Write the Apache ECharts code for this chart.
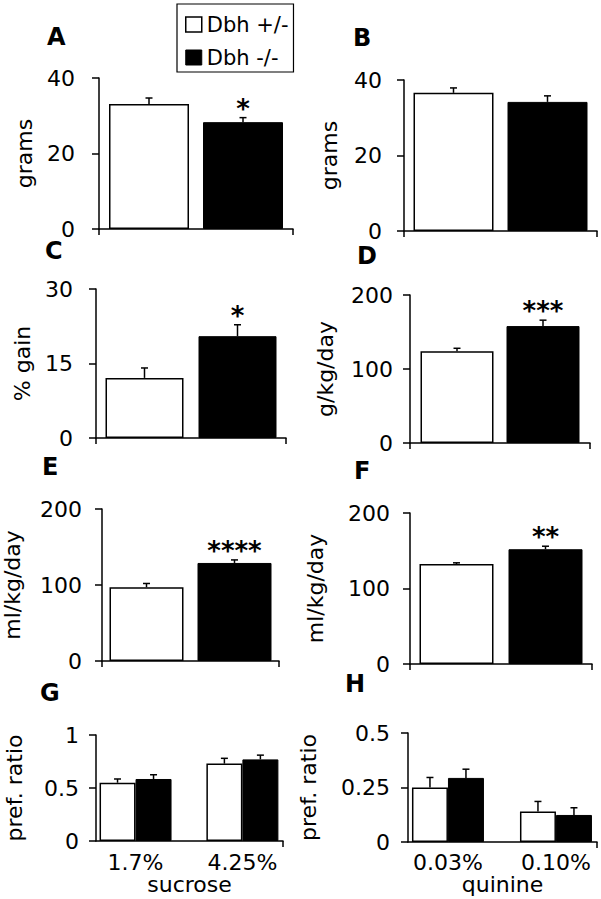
<!DOCTYPE html>
<html><head><meta charset="utf-8">
<script src="https://cdn.jsdelivr.net/npm/echarts@6/dist/echarts.min.js"></script>
<style>html,body{margin:0;padding:0;background:#fff}#c{width:601px;height:899px}</style>
</head><body><div id="c"></div>
<script>
// ---- data ----
const groups = ['Dbh +/-', 'Dbh -/-'];
const panelLetters = ['A', 'B', 'C', 'D', 'E', 'F', 'G', 'H'];
const yNames = ['grams', 'grams', '% gain', 'g/kg/day', 'ml/kg/day', 'ml/kg/day', 'pref. ratio', 'pref. ratio'];
const yMax = [40, 40, 30, 200, 200, 200, 1, 0.5];
const yInterval = [20, 20, 15, 100, 100, 100, 0.5, 0.25];
// panels A-F (single comparison)
const hetMean = [33.1, 36.6, 12.1, 124, 97, 132.5];
const hetErr = [1.6, 1.3, 2.0, 4, 5, 1.5];
const koMean = [28.3, 34.2, 20.5, 158, 129, 152];
const koErr = [1.2, 1.6, 2.3, 8, 4, 4];
const sig = ['*', '', '*', '***', '****', '**'];
// panel G
const sucroseCats = ['1.7%', '4.25%'];
const sucroseHet = [0.55, 0.73];
const sucroseHetErr = [0.035, 0.05];
const sucroseKo = [0.585, 0.77];
const sucroseKoErr = [0.04, 0.04];
// panel H
const quinineCats = ['0.03%', '0.10%'];
const quinineHet = [0.25, 0.14];
const quinineHetErr = [0.046, 0.046];
const quinineKo = [0.294, 0.124];
const quinineKoErr = [0.04, 0.033];
const xNames = ['sucrose', 'quinine'];

// ---- layout (styles / positions) ----
const FONT = 'DejaVu Sans';
// [left, top, width, height, barWidth, barGapPx, nameGap, labelMargin]
const boxes = [
  [99, 78, 194, 151, 80, 14, 64, 24],
  [404, 80, 193, 151, 80, 14, 64, 22],
  [96, 289, 190, 149, 78, 15, 63, 23],
  [410, 295, 180, 148, 73, 13, 74, 17],
  [99, 509, 180, 152, 74, 14, 79, 20],
  [410, 513, 182, 151, 74, 15, 84, 20],
  [96, 735, 187, 106, 36, 0, 71, 17],
  [408, 733, 189, 109, 36, 0, 89, 18]
];
const letterPos = [[47, 37], [353, 38], [45, 251], [357, 256], [42, 467], [354, 471], [40, 693], [345, 684]];
const XMIN = -0.37, XMAX = 1.38;

const lineStyle = { color: '#000', width: 1.5 };
const grids = [], xAxes = [], yAxes = [], series = [];

function errRender(offsetPx, starText) {
  return function (params, api) {
    const x = api.value(0), m = api.value(1), e = api.value(2), side = api.value(3);
    const base = api.coord([x, m]);
    const top = api.coord([x, m + e]);
    const cx = base[0] + side * offsetPx;
    const st = { stroke: '#000', lineWidth: 1.5 };
    const children = [
      { type: 'line', shape: { x1: cx, y1: base[1], x2: cx, y2: top[1] }, style: st },
      { type: 'line', shape: { x1: cx - 3.5, y1: top[1], x2: cx + 3.5, y2: top[1] }, style: st }
    ];
    if (starText && side > 0) {
      children.push({ type: 'text', style: { text: starText, x: cx, y: top[1] - 9, align: 'center', verticalAlign: 'middle', font: 'bold 26px "' + FONT + '"', fill: '#000' } });
    }
    return { type: 'group', children: children };
  };
}

for (let i = 0; i < 8; i++) {
  const b = boxes[i];
  grids.push({ left: b[0], top: b[1], width: b[2], height: b[3], containLabel: false });
  yAxes.push({
    type: 'value', gridIndex: i, min: 0, max: yMax[i], interval: yInterval[i],
    name: yNames[i], nameLocation: 'middle', nameRotate: 90, nameGap: b[6],
    nameTextStyle: { fontFamily: FONT, fontSize: 22, color: '#000' },
    axisLine: { show: true, onZero: false, lineStyle: lineStyle },
    axisTick: { show: true, length: 7, lineStyle: lineStyle },
    axisLabel: { fontFamily: FONT, fontSize: 22, lineHeight: 18, color: '#000', margin: b[7] },
    splitLine: { show: false }
  });
  const itemHet = { color: '#fff', borderColor: '#000', borderWidth: 1.5 };
  const itemKo = { color: '#000', borderColor: '#000', borderWidth: 1 };
  if (i < 6) {
    xAxes.push({
      type: 'category', gridIndex: i, data: [''], boundaryGap: true,
      axisLine: { show: true, onZero: false, lineStyle: lineStyle },
      axisTick: { show: true, length: 6, lineStyle: lineStyle },
      axisLabel: { show: false }
    });
    const gapPct = (b[5] / b[4] * 100) + '%';
    series.push({ type: 'bar', name: groups[0], xAxisIndex: i, yAxisIndex: i, data: [hetMean[i]], barWidth: b[4], barGap: gapPct, itemStyle: itemHet, silent: true });
    series.push({ type: 'bar', name: groups[1], xAxisIndex: i, yAxisIndex: i, data: [koMean[i]], barWidth: b[4], barGap: gapPct, itemStyle: itemKo, silent: true });
    series.push({
      type: 'custom', xAxisIndex: i, yAxisIndex: i, silent: true,
      renderItem: errRender((b[4] + b[5]) / 2, sig[i]),
      data: [[0, hetMean[i], hetErr[i], -1], [0, koMean[i], koErr[i], 1]]
    });
  } else {
    const cats = i === 6 ? sucroseCats : quinineCats;
    const het = i === 6 ? sucroseHet : quinineHet;
    const hetE = i === 6 ? sucroseHetErr : quinineHetErr;
    const ko = i === 6 ? sucroseKo : quinineKo;
    const koE = i === 6 ? sucroseKoErr : quinineKoErr;
    xAxes.push({
      type: 'value', gridIndex: i, min: XMIN, max: XMAX,
      name: xNames[i - 6], nameLocation: 'middle', nameGap: i === 6 ? 30 : 29,
      nameTextStyle: { fontFamily: FONT, fontSize: 22, color: '#000' },
      axisLine: { show: true, onZero: false, lineStyle: lineStyle },
      axisTick: { show: true, length: 6, lineStyle: lineStyle, customValues: [XMAX] },
      axisLabel: { fontFamily: FONT, fontSize: 22, color: '#000', margin: i === 6 ? 10 : 9, customValues: [0, 1], formatter: function (v) { return cats[Math.round(v)]; } },
      splitLine: { show: false }
    });
    series.push({ type: 'bar', name: groups[0], xAxisIndex: i, yAxisIndex: i, data: het.map((v, k) => [k, v]), barWidth: b[4], barGap: '0%', itemStyle: itemHet, silent: true });
    series.push({ type: 'bar', name: groups[1], xAxisIndex: i, yAxisIndex: i, data: ko.map((v, k) => [k, v]), barWidth: b[4], barGap: '0%', itemStyle: itemKo, silent: true });
    const errData = [];
    het.forEach((v, k) => errData.push([k, v, hetE[k], -1]));
    ko.forEach((v, k) => errData.push([k, v, koE[k], 1]));
    series.push({ type: 'custom', xAxisIndex: i, yAxisIndex: i, silent: true, renderItem: errRender(b[4] / 2, ''), data: errData });
  }
}

const graphics = panelLetters.map((t, i) => ({
  type: 'text', x: letterPos[i][0], y: letterPos[i][1],
  style: { text: t, font: 'bold 24px "' + FONT + '"', fill: '#000', verticalAlign: 'middle', lineHeight: 18 }
}));

const chart = echarts.init(document.getElementById('c'), null, { renderer: 'svg' });
chart.setOption({
  animation: false,
  backgroundColor: '#fff',
  grid: grids, xAxis: xAxes, yAxis: yAxes, series: series,
  graphic: graphics,
  legend: {
    orient: 'vertical', left: 177, top: 4, padding: [10, 5, 4, 8], itemGap: 12,
    itemWidth: 16, itemHeight: 15, borderColor: '#000', borderWidth: 1.2, borderRadius: 0,
    selectedMode: false,
    textStyle: { fontFamily: FONT, fontSize: 21, color: '#000' },
    data: [
      { name: groups[0], icon: 'rect', itemStyle: { color: '#fff', borderColor: '#000', borderWidth: 1.5 } },
      { name: groups[1], icon: 'rect', itemStyle: { color: '#000', borderColor: '#000', borderWidth: 1 } }
    ]
  }
});
</script></body></html>
